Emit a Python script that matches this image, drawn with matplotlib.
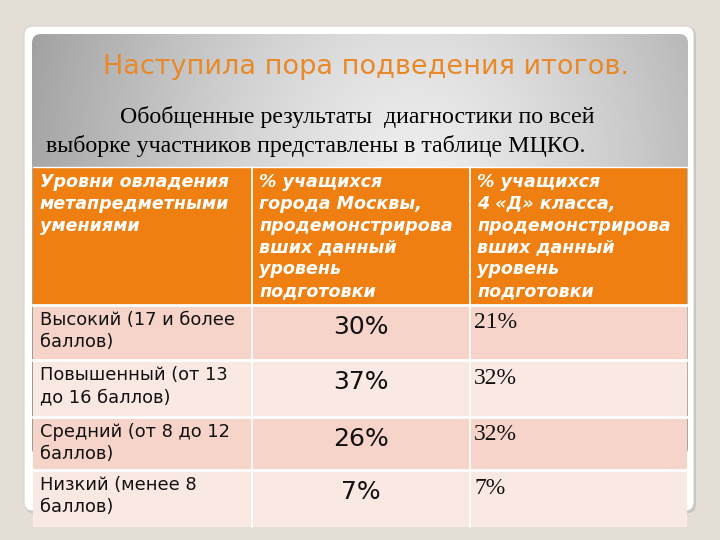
import numpy as np
import matplotlib
matplotlib.use("Agg")
import matplotlib.pyplot as plt
from matplotlib.patches import FancyBboxPatch, Rectangle

title = "Наступила пора подведения итогов."
subtitle_lines = ["Обобщенные результаты  диагностики по всей",
                  "выборке участников представлены в таблице МЦКО."]
headers = ["Уровни овладения\nметапредметными\nумениями",
           "% учащихся\nгорода Москвы,\nпродемонстрирова\nвших данный\nуровень\nподготовки",
           "% учащихся\n4 «Д» класса,\nпродемонстрирова\nвших данный\nуровень\nподготовки"]
levels = ["Высокий (17 и более\nбаллов)",
          "Повышенный (от 13\nдо 16 баллов)",
          "Средний (от 8 до 12\nбаллов)",
          "Низкий (менее 8\nбаллов)"]
moscow_pct = [30, 37, 26, 7]
class_pct = [21, 32, 32, 7]

W, H = 720, 540
fig = plt.figure(figsize=(7.2, 5.4), dpi=100)
fig.patch.set_facecolor("#e4dfd6")
ax = fig.add_axes([0, 0, 1, 1])
ax.set_xlim(0, W)
ax.set_ylim(H, 0)
ax.axis("off")

# card shadow + white card
ax.add_patch(FancyBboxPatch((25, 27), 671, 486, boxstyle="round,pad=0,rounding_size=9",
                            fc="#c9c6c0", ec="none", zorder=1))
ax.add_patch(FancyBboxPatch((24, 26), 670, 485, boxstyle="round,pad=0,rounding_size=9",
                            fc="white", ec="#d6d3ce", lw=0.8, zorder=2))

# gray gradient panel
gx0, gy0, gx1, gy1 = 32, 34, 688, 457
yy, xx = np.mgrid[0:200, 0:300]
u = xx / 299.0
v = yy / 199.0
d = np.sqrt(((u - 0.58) / 0.55) ** 2 + ((v - 0.3) / 0.9) ** 2)
val = 0.93 - 0.26 * np.clip(d, 0, 1.2) ** 1.3
img = np.dstack([val, val, val])
im = ax.imshow(img, extent=(gx0, gx1, gy1, gy0), zorder=3, interpolation="bilinear")
clip = FancyBboxPatch((gx0, gy0), gx1 - gx0, gy1 - gy0, boxstyle="round,pad=0,rounding_size=9",
                      fc="none", ec="none", transform=ax.transData)
ax.add_patch(clip)
im.set_clip_path(clip)

# title
ax.text(366, 67, title, color="#e8892a", fontsize=19.5, family="DejaVu Sans",
        ha="center", va="center", zorder=5)
ax.text(120, 117, subtitle_lines[0], color="black", fontsize=17.2, family="Liberation Serif",
        ha="left", va="center", zorder=5)
ax.text(46, 146, subtitle_lines[1], color="black", fontsize=17.2, family="Liberation Serif",
        ha="left", va="center", zorder=5)

# table
cols = [33, 252, 470, 687]
rows = [167, 305, 360, 417, 470, 527]
orange = "#ee7f10"
row_colors = ["#f7d4ca", "#fae8e2"]

for c in range(3):
    ax.add_patch(Rectangle((cols[c], rows[0]), cols[c + 1] - cols[c], rows[1] - rows[0],
                           fc=orange, ec="none", zorder=4))
    ax.text(cols[c] + 7, rows[0] + 6, headers[c], color="white", fontsize=12.6,
            family="DejaVu Sans", weight="bold", style="italic", ha="left", va="top",
            linespacing=1.27, zorder=6)

for r in range(len(levels)):
    y0, y1 = rows[r + 1], rows[r + 2]
    fc = row_colors[r % 2]
    ax.add_patch(Rectangle((cols[0], y0), cols[3] - cols[0], y1 - y0, fc=fc, ec="none", zorder=4))
    ax.text(cols[0] + 7, y0 + 6, levels[r], color="#111111", fontsize=12.9, family="DejaVu Sans",
            ha="left", va="top", linespacing=1.3, zorder=6)
    ax.text((cols[1] + cols[2]) / 2 + 0, y0 + 22, f"{moscow_pct[r]}%", color="#111111",
            fontsize=18, family="DejaVu Sans", ha="center", va="center", zorder=6)
    ax.text(cols[2] + 4, y0 + 18, f"{class_pct[r]}%", color="#111111",
            fontsize=17, family="Liberation Serif", ha="left", va="center", zorder=6)

# white grid lines
for x in cols[1:3]:
    ax.plot([x, x], [rows[0], rows[-1]], color="white", lw=1.3, zorder=5)
for y in rows[1:-1]:
    ax.plot([cols[0], cols[3]], [y, y], color="white", lw=2.0, zorder=5)
ax.plot([cols[0], cols[3]], [rows[0], rows[0]], color="white", lw=1.0, zorder=5)

fig.savefig("out.png", dpi=100, facecolor=fig.get_facecolor())
